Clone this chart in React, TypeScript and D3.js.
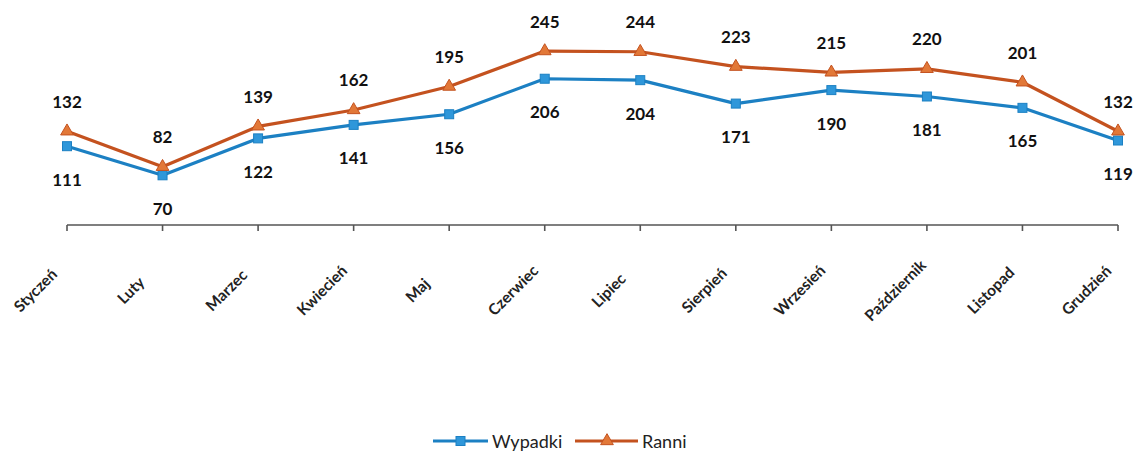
import React from "react";
import * as d3 from "d3";

const months = [
  "Styczeń", "Luty", "Marzec", "Kwiecień", "Maj", "Czerwiec",
  "Lipiec", "Sierpień", "Wrzesień", "Październik", "Listopad", "Grudzień",
];
const wypadki = [111, 70, 122, 141, 156, 206, 204, 171, 190, 181, 165, 119];
const ranni = [132, 82, 139, 162, 195, 245, 244, 223, 215, 220, 201, 132];

const W = 1138;
const H = 459;
const BLUE_LINE = "#1c80c3";
const BLUE_MARK = "#2f97da";
const RED_LINE = "#c4521f";
const RED_MARK = "#e27838";
const FONT = "Lato, 'Open Sans', sans-serif";

export default function App() {
  const x = d3.scalePoint<string>().domain(months).range([67, 1118]);
  const y = d3.scaleLinear().domain([0, 300]).range([225, 12]);
  const line = d3
    .line<number>()
    .x((_, i) => x(months[i]) as number)
    .y((v) => y(v));

  const tri = d3.symbol().type(d3.symbolTriangle).size(70)();
  const axisY = y(0);

  return (
    <svg
      width={W}
      height={H}
      style={{ position: "absolute", left: 0, top: 0, background: "#fff" }}
      fontFamily={FONT}
    >
      {/* category axis */}
      <line x1={67} x2={1118} y1={axisY} y2={axisY} stroke="#555" strokeWidth={1.6} />
      {months.map((m) => (
        <line
          key={"t" + m}
          x1={x(m)}
          x2={x(m)}
          y1={axisY}
          y2={axisY + 6}
          stroke="#555"
          strokeWidth={1.6}
        />
      ))}
      {/* rotated month labels, centred below-left of each tick */}
      {months.map((m) => (
        <text
          key={"l" + m}
          transform={`translate(${(x(m) as number) - 32},${axisY + 65}) rotate(-45)`}
          textAnchor="middle"
          dominantBaseline="central"
          fontSize={15.5}
          fontWeight={700}
          fill="#222"
        >
          {m}
        </text>
      ))}

      {/* series lines */}
      <path d={line(wypadki) || ""} fill="none" stroke={BLUE_LINE} strokeWidth={3.2} strokeLinejoin="round" />
      <path d={line(ranni) || ""} fill="none" stroke={RED_LINE} strokeWidth={3.2} strokeLinejoin="round" />

      {wypadki.map((v, i) => (
        <rect
          key={"w" + i}
          x={(x(months[i]) as number) - 4.5}
          y={y(v) - 4.5}
          width={9}
          height={9}
          fill={BLUE_MARK}
          stroke={BLUE_LINE}
          strokeWidth={1}
        />
      ))}
      {ranni.map((v, i) => (
        <path
          key={"r" + i}
          d={tri || ""}
          transform={`translate(${x(months[i])},${y(v)})`}
          fill={RED_MARK}
          stroke={RED_LINE}
          strokeWidth={1}
        />
      ))}

      {/* value labels */}
      {ranni.map((v, i) => (
        <text
          key={"rl" + i}
          x={x(months[i])}
          y={y(v) - 30}
          textAnchor="middle"
          dominantBaseline="central"
          fontSize={17}
          fontWeight={700}
          fill="#111"
        >
          {v}
        </text>
      ))}
      {wypadki.map((v, i) => (
        <text
          key={"wl" + i}
          x={x(months[i])}
          y={y(v) + 33}
          textAnchor="middle"
          dominantBaseline="central"
          fontSize={17}
          fontWeight={700}
          fill="#111"
        >
          {v}
        </text>
      ))}

      {/* legend */}
      <g transform="translate(0,441)">
        <line x1={433} x2={488} y1={0} y2={0} stroke={BLUE_LINE} strokeWidth={3.2} />
        <rect x={456} y={-4.5} width={9} height={9} fill={BLUE_MARK} stroke={BLUE_LINE} strokeWidth={1} />
        <text x={492} y={0} dominantBaseline="central" fontSize={18} fill="#222">
          Wypadki
        </text>
        <line x1={575} x2={638} y1={0} y2={0} stroke={RED_LINE} strokeWidth={3.2} />
        <path d={tri || ""} transform="translate(607,0)" fill={RED_MARK} stroke={RED_LINE} strokeWidth={1} />
        <text x={642} y={0} dominantBaseline="central" fontSize={18} fill="#222">
          Ranni
        </text>
      </g>
    </svg>
  );
}
